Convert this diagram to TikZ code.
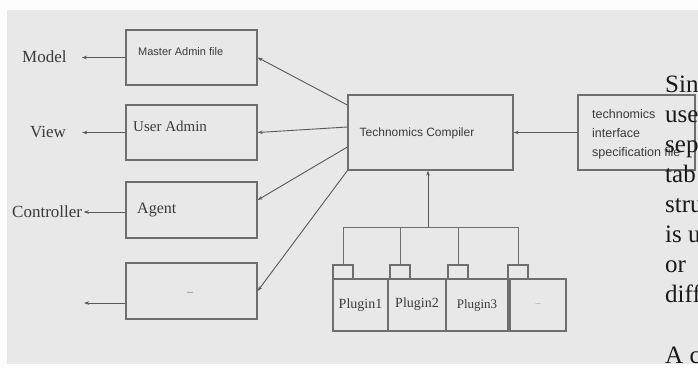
\documentclass[tikz,border=0pt]{standalone}
\usepackage{fontspec}
\setmainfont{Liberation Serif}
\newfontfamily\guifont{Liberation Sans}
\usetikzlibrary{arrows.meta}
\definecolor{paper}{HTML}{E8E8E8}
\definecolor{edge}{HTML}{6E6E6E}
\definecolor{ink}{HTML}{3A3A3A}
\tikzset{
  box/.style={draw=edge, line width=1.3pt, inner sep=0pt},
  guitxt/.style={font=\guifont\fontsize{11}{13}\selectfont, text=ink, inner sep=0pt},
  lbl/.style={font=\fontsize{17}{20}\selectfont, text=ink, inner sep=0pt},
  body/.style={font=\fontsize{25}{30}\selectfont, text=black!90, inner sep=0pt},
  arr/.style={draw=edge!80!black, line width=0.9pt, -{Stealth[length=5pt,width=3.5pt]}},
  wire/.style={draw=edge, line width=1pt}
}
\begin{document}
\begin{tikzpicture}[x=1pt, y=-1pt]
\useasboundingbox (0,0) rectangle (698,368);
\fill[white!92!paper] (0,0) rectangle (698,368);
\fill[paper] (7,10) rectangle (698,364);

% left column
\node[box, minimum width=131, minimum height=55] (madmin) at (191.5,57.5) {};
\node[box, minimum width=131, minimum height=55] (uadmin) at (191.5,132.5) {};
\node[box, minimum width=131, minimum height=56] (agent) at (191.5,210) {};
\node[box, minimum width=131, minimum height=56] (blank) at (191.5,291) {};
\node[guitxt, anchor=west] (madmin-t) at (138,52) {Master Admin file};
\node[lbl, font=\fontsize{15}{18}\selectfont, anchor=west] (uadmin-t) at (133,126) {User Admin};
\node[lbl, font=\fontsize{16}{18}\selectfont, anchor=west] (agent-t) at (137,210) {Agent};
\node[lbl, font=\fontsize{12}{14}\selectfont, text=edge] (blank-t) at (190,294) {--};

\node[lbl, anchor=west] (model) at (22,57) {Model};
\node[lbl, anchor=west] (view) at (30,132) {View};
\node[lbl, anchor=west] (ctrl) at (12,212) {Controller};
\coordinate (blankend) at (84,303);
\draw[arr, shorten >=15pt] (madmin.west) -- (madmin.west -| model.east);
\draw[arr, shorten >=16pt] (uadmin.west) -- (uadmin.west -| view.east);
\draw[arr, shorten >=1.5pt] (agent.west |- ctrl.east) -- (ctrl.east);
\draw[arr] (blank.west |- blankend) -- (blankend);

% compiler and spec
\node[box, minimum width=165, minimum height=75] (compiler) at (430.5,132.5) {};
\node[guitxt, font=\guifont\fontsize{12}{14}\selectfont] (compiler-t) at (417,133) {Technomics Compiler};
\node[box, minimum width=117, minimum height=75] (spec) at (636.5,132.5) {};
\node[guitxt, anchor=north west, align=left, font=\guifont\fontsize{12.5}{19}\selectfont] (spec-t) at (592,109) {technomics\\interface\\specification file};
\draw[arr] (spec.west) -- (compiler.east);

\draw[arr] ([yshift=27.5pt]compiler.west) -- (madmin.east);
\draw[arr] ([yshift=5.5pt]compiler.west) -- (uadmin.east);
\draw[arr] ([yshift=-14.5pt]compiler.west) -- ([yshift=10pt]agent.east);
\draw[arr] (compiler.south west) -- (blank.east);

% plugins
\node[box, minimum width=20, minimum height=14] (tab1) at (343,272) {};
\node[box, minimum width=20, minimum height=14] (tab2) at (400,272) {};
\node[box, minimum width=20, minimum height=14] (tab3) at (458,272) {};
\node[box, minimum width=20, minimum height=14] (tab4) at (518,272) {};
\node[box, minimum width=55, minimum height=52, font=\fontsize{14}{16}\selectfont, text=ink] (plug1) at (360.5,305) {Plugin1};
\node[box, minimum width=58, minimum height=52, font=\fontsize{14}{16}\selectfont, text=ink] (plug2) at (417,305) {\raisebox{4pt}{Plugin2}};
\node[box, minimum width=62, minimum height=52, font=\fontsize{13}{16}\selectfont, text=ink] (plug3) at (477,305) {\raisebox{-3pt}{Plugin3}};
\node[box, minimum width=56, minimum height=52, font=\fontsize{10}{12}\selectfont, text=edge!70] (plug4) at (538,305) {--};
\coordinate (bus) at (428,227);
\draw[wire] (tab1 |- bus) -- (tab4 |- bus);
\foreach \t in {tab1,tab2,tab3,tab4}
  \draw[wire] (\t.north) -- (\t |- bus);
\draw[arr] (bus) -- (bus |- compiler.south);

% page text cut at the edge
\begin{scope}
\clip (0,0) rectangle (698,368);
\foreach \w [count=\i] in {Sin,use,sep,tab,stru,is u,or,diff}
  \node[body, anchor=base west] (body\i) at (665,{92.5+30*(\i-1)}) {\w};
\node[body, anchor=base west] (body9) at (665,363) {A c};
\end{scope}
\end{tikzpicture}
\end{document}
